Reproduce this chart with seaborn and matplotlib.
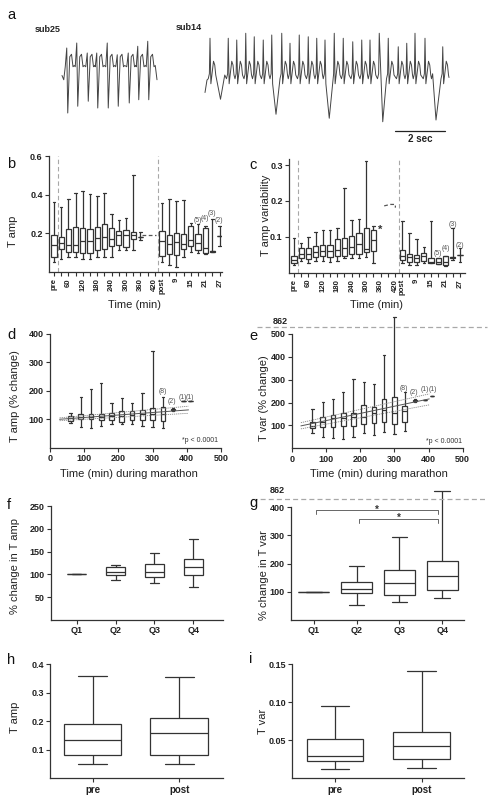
import numpy as np
import pandas as pd
import matplotlib
matplotlib.use("Agg")
import matplotlib.pyplot as plt
import seaborn as sns

sns.set_theme(style="ticks")
plt.rcParams["font.family"] = ["Liberation Sans", "DejaVu Sans"]

W, H = 488, 801
INK = "#333333"
DASH = "#a8a8a8"
NOTE = "#555555"

# ================= DATA =================
# ---- panel a: ECG strips (time in s, amplitude in arbitrary units) ----
SUB25_BEAT_T = [0.19, 0.59, 1.01, 1.39, 1.81, 2.21, 2.65, 3.03, 3.43]
SUB25_R_AMP = [1.2, 1.4, 1.0, 1.0, 1.4, 0.93, 1.0, 1.27, 1.47]
SUB25_S_AMP = [1.4, 1.13, 0.93, 1.2, 1.2, 1.13, 1.0, 0.87, 0.87]
SUB25_WAVE_T = [-0.06, 0.0, 0.04, 0.12, 0.19, 0.25, 0.30]
SUB25_WAVE_V = [0.45, 1.0, -1.0, 0.85, 0.95, 0.45, 0.5]
SUB25_DUR = 3.8

SUB14_BEAT_T = [0.2, 0.56, 0.93, 1.27, 1.63, 1.97, 2.33, 2.67, 3.07, 3.4, 3.77, 4.13,
                4.47, 4.8, 5.17, 5.53, 5.91, 6.27, 6.6, 6.97, 7.33, 7.73, 8.07, 8.4,
                8.8, 9.13, 9.51]
SUB14_R_AMP = [1.67, 1.33, 1.67, 1.6, 1.87, 1.73, 1.6, 1.8, 1.87, 1.47, 1.8, 1.73,
               1.67, 1.6, 1.87, 1.67, 1.53, 1.6, 1.6, 1.87, 1.67, 1.33, 1.47, 1.87,
               1.67, 1.53, 1.33]
SUB14_WAVE_T = [-0.07, -0.025, 0.0, 0.035, 0.08, 0.14, 0.19, 0.23]
SUB14_WAVE_V = [0.05, 0.25, 1.0, -0.15, 0.25, 0.75, 0.6, 0.2]
SUB14_DIP_T = [0.62, 2.84, 4.97, 7.11, 9.24]
SUB14_DIP_V = [-0.77, -1.37, -1.53, -1.67, -1.6]
SUB14_DUR = 9.76

# ---- panels b, c: time course (categories) ----
BC_CATS = ["pre", "30", "60", "90", "120", "150", "180", "210", "240", "270", "300",
           "330", "360", "390", "420", "post", "6", "9", "12", "15", "18", "21", "24", "27"]
BC_TICKLABELS = ["pre", "", "60", "", "120", "", "180", "", "240", "", "300", "",
                 "360", "", "420", "post", "", "9", "", "15", "", "21", "", "27"]

B_GROUPS = ["pre", "30", "60", "90", "120", "150", "180", "210", "240", "270", "300",
            "330", "360", "post", "6", "9", "12", "15", "18", "21", "24", "27"]
B_MAX = [0.363, 0.336, 0.377, 0.41, 0.42, 0.407, 0.395, 0.41, 0.30, 0.27, 0.283, 0.504,
         0.207, 0.36, 0.38, 0.368, 0.372, 0.253, 0.25, 0.24, 0.274, 0.24]
B_Q3 = [0.19, 0.18, 0.225, 0.232, 0.228, 0.221, 0.235, 0.248, 0.226, 0.212, 0.216, 0.207,
        0.183, 0.214, 0.19, 0.203, 0.195, 0.239, 0.195, 0.226, 0.11, 0.186]
B_MED = [0.138, 0.15, 0.138, 0.138, 0.16, 0.16, 0.177, 0.18, 0.172, 0.19, 0.19, 0.19,
         0.183, 0.16, 0.147, 0.158, 0.147, 0.168, 0.15, 0.127, 0.108, 0.186]
B_Q1 = [0.08, 0.118, 0.106, 0.106, 0.097, 0.1, 0.115, 0.118, 0.136, 0.14, 0.13, 0.172,
        0.183, 0.083, 0.094, 0.087, 0.118, 0.136, 0.115, 0.10, 0.106, 0.186]
B_MIN = [0.053, 0.07, 0.076, 0.08, 0.069, 0.065, 0.08, 0.08, 0.076, 0.115, 0.115, 0.115,
         0.165, 0.053, 0.035, 0.027, 0.076, 0.106, 0.097, 0.094, 0.106, 0.133]
B_GAP_VALUE = 0.19
B_N_LABELS = {"18": ("(5)", 0.265), "21": ("(4)", 0.28), "24": ("(3)", 0.306), "27": ("(2)", 0.265)}

C_GROUPS = ["pre", "30", "60", "90", "120", "150", "180", "210", "240", "270", "300",
            "330", "post", "6", "9", "12", "15", "18", "21", "24", "27"]
C_MAX = [0.097, 0.083, 0.1, 0.112, 0.12, 0.119, 0.125, 0.235, 0.147, 0.148, 0.312, 0.13,
         0.144, 0.111, 0.093, 0.07, 0.144, 0.04, 0.046, 0.123, 0.067]
C_Q3 = [0.046, 0.067, 0.067, 0.075, 0.077, 0.077, 0.093, 0.095, 0.103, 0.109, 0.125, 0.12,
        0.063, 0.052, 0.049, 0.055, 0.04, 0.04, 0.046, 0.042, 0.049]
C_MED = [0.035, 0.052, 0.052, 0.058, 0.061, 0.061, 0.063, 0.067, 0.072, 0.079, 0.066, 0.091,
         0.046, 0.042, 0.04, 0.046, 0.03, 0.03, 0.03, 0.042, 0.049]
C_Q1 = [0.027, 0.04, 0.037, 0.042, 0.046, 0.044, 0.046, 0.046, 0.052, 0.053, 0.058, 0.06,
        0.035, 0.03, 0.03, 0.032, 0.026, 0.024, 0.02, 0.04, 0.049]
C_MIN = [0.02, 0.032, 0.026, 0.032, 0.032, 0.03, 0.033, 0.04, 0.04, 0.04, 0.044, 0.027,
         0.027, 0.021, 0.021, 0.026, 0.026, 0.024, 0.018, 0.035, 0.03]
C_GAP_VALUES = [0.186, 0.19, 0.19, 0.181]
C_N_LABELS = {"18": ("(5)", 0.052), "21": ("(4)", 0.066), "24": ("(3)", 0.133), "27": ("(2)", 0.074)}
C_STAR = ("330", 0.118)

# ---- panels d, e: % change vs time during marathon ----
DE_X = [60, 90, 120, 150, 180, 210, 240, 270, 300, 330, 360, 390, 410]
D_MAX = [123, 179, 205, 226, 156, 175, 156, 194, 339, 179, 140, 164, 166]
D_Q3 = [111, 120, 119, 119, 123, 129, 130, 132, 141, 144, 137, 164, 166]
D_MED = [105, 109, 109, 109, 112, 112, 115, 117, 117, 120, 134, 164, 166]
D_Q1 = [95, 101, 101, 97, 97, 91, 97, 99, 99, 94, 131, 164, 166]
D_MIN = [88, 74, 70, 76, 82, 85, 82, 76, 74, 68, 128, 164, 166]
D_FIT_X = [28, 405]
D_FIT_MID = [100, 133]
D_FIT_LO = [95, 121]
D_FIT_HI = [105, 146]
D_N_LABELS = [(329, 196, "(8)"), (358, 161, "(2)"), (388, 177, "(1)"), (409, 177, "(1)")]

E_MAX = [172, 201, 216, 245, 302, 292, 282, 406, 862, 248, 215, 212, 229]
E_Q3 = [117, 139, 145, 156, 156, 190, 180, 216, 223, 185, 211, 212, 229]
E_MED = [98, 117, 131, 131, 136, 139, 153, 168, 153, 165, 209, 212, 229]
E_Q1 = [88, 92, 95, 98, 98, 107, 109, 117, 107, 117, 207, 212, 229]
E_MIN = [66, 51, 44, 41, 51, 66, 58, 73, 63, 77, 203, 212, 229]
E_FIT_X = [26, 402]
E_FIT_MID = [98, 216]
E_FIT_LO = [85, 190]
E_FIT_HI = [112, 238]
E_N_LABELS = [(327, 260, "(8)"), (358, 244, "(2)"), (388, 258, "(1)"), (412, 258, "(1)")]

# ---- panels f, g: quartiles ----
Q_CATS = ["Q1", "Q2", "Q3", "Q4"]
F_MAX = [100, 121, 148, 177.5]
F_Q3 = [100, 116, 123, 133]
F_MED = [100, 106, 105, 116]
F_Q1 = [100, 98.5, 93.5, 98]
F_MIN = [100, 87, 81, 72.5]

G_MAX = [100, 190, 293, 862]
G_Q3 = [100, 136, 178, 209]
G_MED = [100, 110.5, 132, 155]
G_Q1 = [100, 94, 88, 106]
G_MIN = [100, 53, 65, 77]
G_SIG = [("Q1", "Q4", 388), ("Q2", "Q4", 359)]

# ---- panels h, i: pre vs post ----
PP_CATS = ["pre", "post"]
H_MAX = [0.359, 0.354]
H_Q3 = [0.189, 0.212]
H_MED = [0.133, 0.159]
H_Q1 = [0.082, 0.082]
H_MIN = [0.051, 0.051]

I_MAX = [0.095, 0.1416]
I_Q3 = [0.052, 0.061]
I_MED = [0.030, 0.042]
I_Q1 = [0.0227, 0.0258]
I_MIN = [0.0125, 0.0139]

# ================= HELPERS =================
fig = plt.figure(figsize=(W / 100, H / 100), dpi=100)


def axes_px(l, t, r, b):
    return fig.add_axes([l / W, 1 - b / H, (r - l) / W, (b - t) / H])


def ftext(x, y, s, **kw):
    fig.text(x / W, 1 - y / H, s, **kw)


def boxes(ax, keys, mn, q1, md, q3, mx, width, order=None, native=False):
    rows = []
    for k, a, b, c, d, e in zip(keys, mn, q1, md, q3, mx):
        for v in (a, b, c, d, e):
            rows.append((k, v))
    df = pd.DataFrame(rows, columns=["k", "v"])
    sns.boxplot(data=df, x="k", y="v", order=order, whis=(0, 100), width=width,
                native_scale=native, color="white", linecolor=INK, linewidth=0.9,
                showfliers=False, ax=ax)
    ax.set_xlabel("")
    ax.set_ylabel("")


def style(ax):
    sns.despine(ax=ax)
    for sp in ("left", "bottom"):
        ax.spines[sp].set_color(INK)
        ax.spines[sp].set_linewidth(0.9)
    ax.tick_params(axis="both", direction="out", length=3, width=0.8, color=INK,
                   labelcolor="#222222", pad=1.5, labelsize=6.5)
    for lab in ax.get_xticklabels() + ax.get_yticklabels():
        lab.set_fontweight("bold")


def make_break(lim, k):
    def fwd(y):
        y = np.asarray(y, dtype=float)
        return np.where(y <= lim, y, lim + (y - lim) * k)

    def inv(y):
        y = np.asarray(y, dtype=float)
        return np.where(y <= lim, y, lim + (y - lim) / k)
    return fwd, inv


LAB = dict(fontsize=8, color="#222222", ha="center", va="center")
LETTER = dict(fontsize=10.5, color="#111111", ha="left", va="center")
NOTE_KW = dict(fontsize=5, color=NOTE, ha="center", va="center")

# ================= PANEL a =================
axa = axes_px(0, 20, 488, 145)
axa.set_xlim(0, 19.52)
axa.set_ylim(-2.68, 2.32)
axa.axis("off")

t25 = [0.0, 0.07]
v25 = [0.1, -0.07]
for bt, r, s in zip(SUB25_BEAT_T, SUB25_R_AMP, SUB25_S_AMP):
    scale = [1, r, s, 1, 1, 1, 1]
    for dt, v, m in zip(SUB25_WAVE_T, SUB25_WAVE_V, scale):
        t25.append(bt + dt)
        v25.append(v * m)
t25.append(SUB25_DUR)
v25.append(-0.07)
o25 = np.argsort(t25)
axa.plot(2.48 + np.asarray(t25)[o25], np.asarray(v25)[o25], color="#444444", lw=0.7)

t14 = [0.0, 0.08]
v14 = [-0.5, 0.0]
for bt, r in zip(SUB14_BEAT_T, SUB14_R_AMP):
    scale = [1, 1, r, 1, 1, 1, 1, 1]
    for dt, v, m in zip(SUB14_WAVE_T, SUB14_WAVE_V, scale):
        t14.append(bt + dt)
        v14.append(v * m)
t14.append(SUB14_DUR)
v14.append(0.1)
t14 = np.asarray(t14)
v14 = np.asarray(v14)
keep = np.ones(len(t14), dtype=bool)
for dtm in SUB14_DIP_T:
    keep &= np.abs(t14 - dtm) > 0.13
t14 = np.concatenate([t14[keep], SUB14_DIP_T])
v14 = np.concatenate([v14[keep], SUB14_DIP_V])
o14 = np.argsort(t14)
axa.plot(8.2 + t14[o14], -0.08 + v14[o14], color="#444444", lw=0.7)

axa.plot([15.8, 17.8], [-2.11, -2.11], color="#222222", lw=0.9)
ftext(420, 139, "2 sec", fontsize=7, fontweight="bold", color="#222222", ha="center", va="center")
ftext(35, 30, "sub25", fontsize=6.5, fontweight="bold", color="#222222", ha="left", va="center")
ftext(176, 27, "sub14", fontsize=6.5, fontweight="bold", color="#222222", ha="left", va="center")
ftext(7, 15, "a", **LETTER)

# ================= PANEL b =================
axb = axes_px(49, 156.5, 222, 272)
boxes(axb, B_GROUPS, B_MIN, B_Q1, B_MED, B_Q3, B_MAX, 0.72, order=BC_CATS)
axb.set_xlim(-0.69, 23.32)
axb.set_ylim(0, 0.6)
for split in (BC_CATS.index("pre") + 0.5, BC_CATS.index("420") + 0.5):
    axb.axvline(split, color=DASH, lw=0.8, ls=(0, (4, 2.5)), zorder=0)
axb.plot([BC_CATS.index("360") + 0.25, BC_CATS.index("420") + 0.1], [B_GAP_VALUE] * 2,
         color="#555555", lw=0.9, ls=(0, (3, 2)))
for key, (txt, yv) in B_N_LABELS.items():
    axb.text(BC_CATS.index(key) - 0.05, yv, txt, **NOTE_KW)
axb.set_xticks(range(len(BC_CATS)))
axb.set_xticklabels(BC_TICKLABELS, rotation=90, ha="center", va="top")
axb.set_yticks([0.2, 0.4, 0.6])
axb.set_yticklabels(["0.2", "0.4", "0.6"])
style(axb)
axb.tick_params(axis="x", labelsize=5.6)
ftext(12.5, 231, "T amp", rotation=90, **LAB)
ftext(135, 305, "Time (min)", **LAB)
ftext(7, 164, "b", **LETTER)

# ================= PANEL c =================
axc = axes_px(289, 159.3, 465, 272.5)
boxes(axc, C_GROUPS, C_MIN, C_Q1, C_MED, C_Q3, C_MAX, 0.72, order=BC_CATS)
axc.set_xlim(-0.69, 23.7)
axc.set_ylim(0, 0.316)
for split in (BC_CATS.index("pre") + 0.5, BC_CATS.index("420") + 0.5):
    axc.axvline(split, color=DASH, lw=0.8, ls=(0, (4, 2.5)), zorder=0)
i360 = BC_CATS.index("360")
axc.plot([i360 + 0.5, i360 + 1.35, i360 + 2.05, i360 + 2.05], C_GAP_VALUES,
         color="#555555", lw=0.9, ls=(0, (3, 2)))
for key, (txt, yv) in C_N_LABELS.items():
    axc.text(BC_CATS.index(key), yv, txt, **NOTE_KW)
axc.text(BC_CATS.index(C_STAR[0]) + 0.95, C_STAR[1], "*", fontsize=8, fontweight="bold",
         color="#333333", ha="center", va="center")
axc.set_xticks(range(len(BC_CATS)))
axc.set_xticklabels(BC_TICKLABELS, rotation=90, ha="center", va="top")
axc.set_yticks([0.1, 0.2, 0.3])
axc.set_yticklabels(["0.1", "0.2", "0.3"])
style(axc)
axc.tick_params(axis="x", labelsize=5.6)
ftext(266, 215, "T amp variability", rotation=90, **LAB)
ftext(377, 305, "Time (min)", **LAB)
ftext(249, 165, "c", **LETTER)

# ================= PANEL d =================
axd = axes_px(50, 334, 221, 447.7)
boxes(axd, DE_X, D_MIN, D_Q1, D_MED, D_Q3, D_MAX, 0.68, native=True)
axd.plot(D_FIT_X, D_FIT_HI, color="#888888", lw=0.6, ls=(0, (1.5, 1)), zorder=5)
axd.plot(D_FIT_X, D_FIT_LO, color="#888888", lw=0.6, ls=(0, (1.5, 1)), zorder=5)
axd.plot(D_FIT_X, D_FIT_MID, color="#555555", lw=0.7, zorder=5)
for xv, yv, txt in D_N_LABELS:
    axd.text(xv, yv, txt, **NOTE_KW)
axd.text(490, 24, "*p < 0.0001", fontsize=5, color="#333333", ha="right", va="center")
axd.set_xlim(0, 500)
axd.set_ylim(0, 400)
axd.set_xticks([0, 100, 200, 300, 400, 500])
axd.set_xticklabels(["0", "100", "200", "300", "400", "500"])
axd.set_yticks([100, 200, 300, 400])
axd.set_yticklabels(["100", "200", "300", "400"])
style(axd)
ftext(15, 396, "T amp (% change)", rotation=90, **LAB)
ftext(128.5, 474, "Time (min) during marathon", **LAB)
ftext(7, 335, "d", **LETTER)

# ================= PANEL e =================
axe = axes_px(292, 315.7, 462.7, 448.3)
boxes(axe, DE_X, E_MIN, E_Q1, E_MED, E_Q3, E_MAX, 0.68, native=True)
fwd_e, inv_e = make_break(500, 0.206)
axe.set_yscale("function", functions=(fwd_e, inv_e))
axe.plot(E_FIT_X, E_FIT_HI, color="#888888", lw=0.6, ls=(0, (1.5, 1)), zorder=5)
axe.plot(E_FIT_X, E_FIT_LO, color="#888888", lw=0.6, ls=(0, (1.5, 1)), zorder=5)
axe.plot(E_FIT_X, E_FIT_MID, color="#555555", lw=0.7, zorder=5)
for xv, yv, txt in E_N_LABELS:
    axe.text(xv, yv, txt, **NOTE_KW)
axe.text(498, 28, "*p < 0.0001", fontsize=5, color="#333333", ha="right", va="center")
axe.set_xlim(0, 500)
axe.set_ylim(0, float(inv_e(580)))
axe.plot([-0.205, 1.142], [float(inv_e(532))] * 2, transform=axe.get_yaxis_transform(),
         color=DASH, lw=0.9, ls=(0, (4, 2.5)), clip_on=False)
axe.set_xticks([0, 100, 200, 300, 400, 500])
axe.set_xticklabels(["0", "100", "200", "300", "400", "500"])
axe.set_yticks([100, 200, 300, 400, 500])
axe.set_yticklabels(["100", "200", "300", "400", "500"])
axe.yaxis.set_minor_locator(matplotlib.ticker.NullLocator())
style(axe)
axe.spines["left"].set_bounds(0, 500)
ftext(280, 321, "862", fontsize=6.5, fontweight="bold", color="#222222", ha="center", va="center")
ftext(264, 398, "T var (% change)", rotation=90, **LAB)
ftext(379, 474, "Time (min) during marathon", **LAB)
ftext(249, 336, "e", **LETTER)

# ================= PANEL f =================
axf = axes_px(50.7, 506, 222.7, 620)
boxes(axf, Q_CATS, F_MIN, F_Q1, F_MED, F_Q3, F_MAX, 0.48, order=Q_CATS)
axf.set_xlim(-0.67, 3.76)
axf.set_ylim(0, 250)
axf.set_yticks([50, 100, 150, 200, 250])
axf.set_yticklabels(["50", "100", "150", "200", "250"])
style(axf)
ftext(15, 566, "% change in T amp", rotation=90, **LAB)
ftext(7, 505, "f", **LETTER)

# ================= PANEL g =================
axg = axes_px(290.7, 489.5, 464, 620)
boxes(axg, Q_CATS, G_MIN, G_Q1, G_MED, G_Q3, G_MAX, 0.72, order=Q_CATS)
fwd_g, inv_g = make_break(400, 0.1223)
axg.set_yscale("function", functions=(fwd_g, inv_g))
axg.set_xlim(-0.54, 3.51)
axg.set_ylim(0, float(inv_g(462)))
axg.plot([-0.223, 1.133], [float(inv_g(428.3))] * 2, transform=axg.get_yaxis_transform(),
         color=DASH, lw=0.9, ls=(0, (4, 2.5)), clip_on=False)
for a, b, yv in G_SIG:
    x0 = Q_CATS.index(a) + 0.06
    x1 = Q_CATS.index(b) - 0.1
    axg.plot([x0, x0, x1, x1], [yv - 14, yv, yv, yv - 14], color="#666666", lw=0.7)
    axg.text((x0 + x1) / 2, yv - 9, "*", fontsize=7, fontweight="bold", color="#333333",
             ha="center", va="baseline")
axg.set_yticks([100, 200, 300, 400])
axg.set_yticklabels(["100", "200", "300", "400"])
axg.yaxis.set_minor_locator(matplotlib.ticker.NullLocator())
style(axg)
axg.spines["left"].set_bounds(0, 400)
ftext(277, 490, "862", fontsize=6.5, fontweight="bold", color="#222222", ha="center", va="center")
ftext(264, 575, "% change in T var", rotation=90, **LAB)
ftext(249, 503, "g", **LETTER)

# ================= PANEL h =================
axh = axes_px(50, 664.3, 222.7, 778.3)
boxes(axh, PP_CATS, H_MIN, H_Q1, H_MED, H_Q3, H_MAX, 0.665, order=PP_CATS)
axh.set_xlim(-0.49, 1.5)
axh.set_ylim(0, 0.4)
axh.set_yticks([0.1, 0.2, 0.3, 0.4])
axh.set_yticklabels(["0.1", "0.2", "0.3", "0.4"])
style(axh)
axh.tick_params(axis="x", labelsize=7)
ftext(15, 717, "T amp", rotation=90, **LAB)
ftext(7, 660, "h", **LETTER)

# ================= PANEL i =================
axi = axes_px(292.3, 664.3, 464, 778.3)
boxes(axi, PP_CATS, I_MIN, I_Q1, I_MED, I_Q3, I_MAX, 0.65, order=PP_CATS)
axi.set_xlim(-0.49, 1.49)
axi.set_ylim(0, 0.15)
axi.set_yticks([0.05, 0.10, 0.15])
axi.set_yticklabels(["0.05", "0.10", "0.15"])
style(axi)
axi.tick_params(axis="x", labelsize=7)
ftext(263, 721, "T var", rotation=90, **LAB)
ftext(249, 659, "i", **LETTER)

fig.savefig("out.png", dpi=100, facecolor="white")
